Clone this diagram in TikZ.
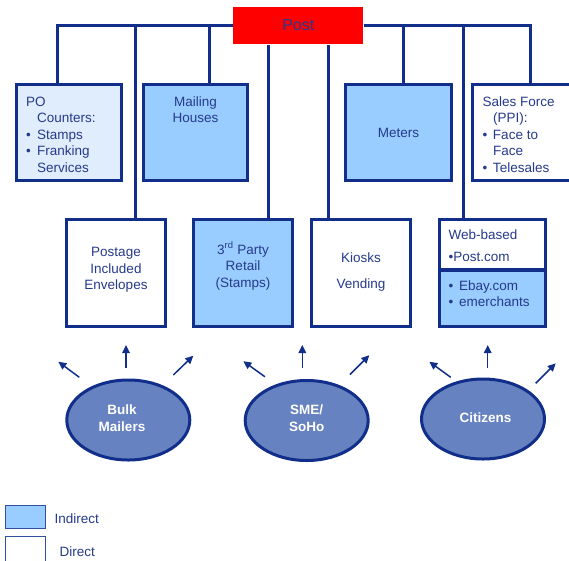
\documentclass[tikz,border=0pt]{standalone}
\usepackage{fontspec}
\setmainfont{Liberation Sans}
\usetikzlibrary{shapes.geometric,arrows.meta}
\definecolor{navy}{RGB}{16,46,138}
\definecolor{navytwo}{RGB}{50,80,160}
\definecolor{txtblue}{RGB}{38,58,140}
\definecolor{indirect}{RGB}{153,204,255}
\definecolor{dotfill}{RGB}{224,237,252}
\definecolor{ellfill}{RGB}{102,130,192}
\definecolor{postred}{RGB}{255,0,0}
\begin{document}
\begin{tikzpicture}[x=1pt,y=-1pt,
  box/.style={draw=navy, line width=3.3pt, inner sep=0pt, fill=white},
  ind/.style={box, fill=indirect},
  conn/.style={draw=navy, line width=3pt},
  txt/.style={inner sep=0pt, text=txtblue, font=\fontsize{13.5}{16.5}\selectfont},
  cust/.style={ellipse, draw=navy, line width=3pt, fill=ellfill, minimum width=123pt, minimum height=80pt, inner sep=0pt},
  ctxt/.style={inner sep=0pt, text=white, font=\fontsize{13.5}{16.7}\selectfont\bfseries, align=center},
  arr/.style={draw=navy, line width=1.5pt, -{Triangle[length=8pt,width=7.5pt]}},
  legbox/.style={draw=navytwo, line width=1.3pt, inner sep=0pt, minimum width=39.7pt},
]
\useasboundingbox (0,0) rectangle (569,560);

% top node
\node[fill=postred, minimum width=130pt, minimum height=37.6pt, inner sep=0pt,
      text=txtblue, font=\fontsize{16}{19}\selectfont] (post) at (298.3,25.5) {Post};

% top row boxes
\node[box, fill=dotfill, minimum width=104.8pt, minimum height=95.8pt] (po) at (69,132.5) {};
\node[ind, minimum width=103.8pt, minimum height=95.8pt] (mail) at (195.5,132.5) {};
\node[ind, minimum width=105.7pt, minimum height=95.8pt] (meters) at (398.5,132.5) {};
\node[box, minimum width=103.8pt, minimum height=95.8pt] (sales) at (524.5,132.5) {};

% bottom row boxes
\node[box, minimum width=98.7pt, minimum height=106.7pt] (postage) at (116,273) {};
\node[ind, minimum width=98.7pt, minimum height=106.7pt] (party) at (243,273) {};
\node[box, minimum width=98.7pt, minimum height=106.7pt] (kiosk) at (361,273) {};
\node[box, minimum width=105.7pt, minimum height=50.35pt] (webtop) at (492.5,244.8) {};
\node[ind, minimum width=105.7pt, minimum height=56.35pt] (webbot) at (492.5,298.2) {};

% connectors
\draw[conn] (post.west) -| ([xshift=-12pt]po.north);
\draw[conn] (post.west) -| ([xshift=19pt]postage.north);
\draw[conn] (post.west) -| ([xshift=13.5pt]mail.north);
\draw[conn] ([xshift=25pt]party.north) -- ([xshift=25pt]party.north |- post.south);
\draw[conn] ([xshift=-33pt]kiosk.north) -- ([xshift=-33pt]kiosk.north |- post.south);
\draw[conn] (post.east) -| ([xshift=4.5pt]meters.north);
\draw[conn] (post.east) -| ([xshift=-29.5pt]webtop.north);
\draw[conn] (post.east) -| ([xshift=5.5pt]sales.north);

% box texts
\node[txt, anchor=north west, align=left] (tpo) at (26,94.45)
  {\strut PO\\\hspace*{11pt}Counters:\\\makebox[11pt][l]{•}Stamps\\\makebox[11pt][l]{•}Franking\\\hspace*{11pt}Services};
\node[txt, anchor=north, align=center] (tmail) at (195.5,94.45) {\strut Mailing\\Houses};
\node[txt, anchor=north, align=center] (tmeters) at (398.5,125.45) {\strut Meters};
\node[txt, anchor=north west, align=left] (tsales) at (482.3,94.45)
  {\strut Sales Force\\\hspace*{10.5pt}(PPI):\\\makebox[10.5pt][l]{•}Face to\\\hspace*{10.5pt}Face\\\makebox[10.5pt][l]{•}Telesales};
\node[txt, anchor=north, align=center] (tpostage) at (116,245.2) {\strut Postage\\Included\\Envelopes};
\node[txt, anchor=north, align=center] (tparty) at (243,241.8) {\strut 3\textsuperscript{rd} Party\\Retail\\(Stamps)};
\node[txt, anchor=north, align=center] (tkiosk) at (361,251.1) {\strut Kiosks\\[9.2pt]Vending};
\node[txt, anchor=north west, align=left] (twebtop) at (448.5,227.8) {\strut Web-based\\[5.9pt]•Post.com};
\node[txt, anchor=north west, align=left] (twebbot) at (448.5,278.5)
  {\strut\makebox[10.5pt][l]{•}Ebay.com\\\makebox[10.5pt][l]{•}emerchants};

% customer groups
\node[cust] (bulk) at (128.3,420) {};
\node[cust] (sme) at (306.7,420.5) {};
\node[cust] (cit) at (483,419) {};
\node[ctxt, anchor=north] (tbulk) at (122,402.6) {\strut Bulk\\Mailers};
\node[ctxt, anchor=north] (tsme) at (306.7,402.6) {\strut SME/\\SoHo};
\node[ctxt, anchor=north] (tcit) at (485.5,410.6) {\strut Citizens};

% arrows
\draw[arr] ([shift={(-49,-42.7)}]bulk.center) -- ([shift={(-70,-58.3)}]bulk.center);
\draw[arr] ([shift={(-2.3,-52)}]bulk.center) -- ([shift={(-2.3,-75)}]bulk.center);
\draw[arr] ([shift={(45,-45)}]bulk.center) -- ([shift={(65,-64.3)}]bulk.center);
\draw[arr] ([shift={(-41.7,-43.7)}]sme.center) -- ([shift={(-63.4,-59.3)}]sme.center);
\draw[arr] ([shift={(-4.4,-52.5)}]sme.center) -- ([shift={(-4.4,-75.5)}]sme.center);
\draw[arr] ([shift={(43.3,-46)}]sme.center) -- ([shift={(62.6,-65.3)}]sme.center);
\draw[arr] ([shift={(-32.3,-41.7)}]cit.center) -- ([shift={(-53.7,-57.3)}]cit.center);
\draw[arr] ([shift={(4.7,-51)}]cit.center) -- ([shift={(4.7,-74)}]cit.center);
\draw[arr] ([shift={(52.7,-35.7)}]cit.center) -- ([shift={(72.7,-55.7)}]cit.center);

% legend
\node[legbox, fill=indirect, minimum height=22.7pt] (legind) at (25.5,517) {};
\node[legbox, fill=white, minimum height=30.7pt] (legdir) at (25.5,551.7) {};
\node[txt, anchor=base west] (tind) at (54.5,523.3) {Indirect};
\node[txt, anchor=base west] (tdir) at (59.5,556.7) {Direct};
\end{tikzpicture}
\end{document}
